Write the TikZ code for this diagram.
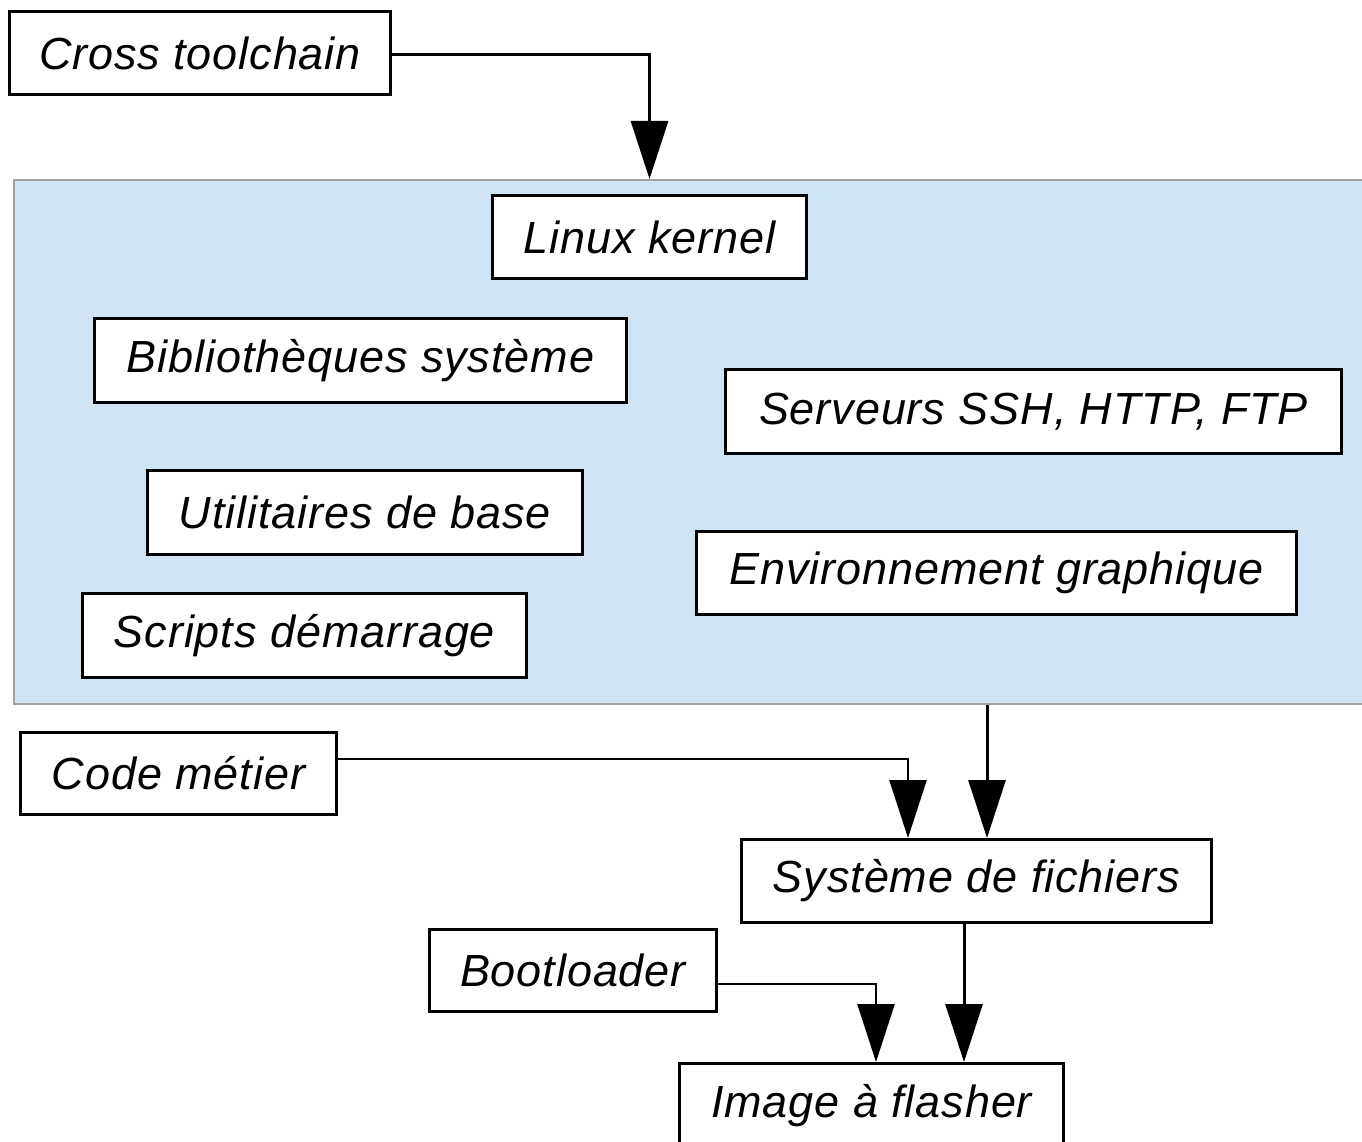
\documentclass[tikz,border=0pt]{standalone}
\usepackage{fontspec}
\setmainfont{Liberation Sans}
\newfontfamily\boxfont[LetterSpace=2.0]{Liberation Sans}
\usetikzlibrary{arrows.meta}
\definecolor{rootblue}{HTML}{CFE4F3}
\definecolor{rootedge}{HTML}{A0A0A0}
\tikzset{
  box/.style={draw, line width=3pt, fill=white, inner sep=0pt,
    font=\boxfont\itshape\fontsize{45}{50}\selectfont},
  arr/.style={line width=3pt, -{Triangle[width=37pt,length=58pt]}},
  link/.style={line width=2.5pt, -{Triangle[width=37pt,length=58pt]}}
}
\begin{document}
\begin{tikzpicture}[x=1pt,y=-1pt]
  \useasboundingbox (0,0) rectangle (1362,1142);
  \clip (0,0) rectangle (1362,1142);

  % root filesystem area
  \node[draw=rootedge, fill=rootblue, line width=2pt, anchor=north west,
        minimum width=1360pt, minimum height=524pt, inner sep=0pt] (rootfs) at (13,179) {};

  % components
  \node[box, minimum width=381pt, minimum height=83pt] (cross) at (200,53) {Cross toolchain};
  \node[box, minimum width=314pt, minimum height=83pt] (lk) at (649.5,237) {Linux kernel};
  \node[box, minimum width=532pt, minimum height=84pt] (bib) at (360.5,360.5) {Bibliothèques système};
  \node[box, minimum width=616pt, minimum height=84pt] (srv) at (1033.5,411.5) {Serveurs SSH, HTTP, FTP};
  \node[box, minimum width=435pt, minimum height=84pt] (util) at (365,512.5) {Utilitaires de base};
  \node[box, minimum width=600pt, minimum height=83pt] (env) at (996.5,573) {Environnement graphique};
  \node[box, minimum width=444pt, minimum height=84pt] (scr) at (304.5,635.5) {Scripts démarrage};
  \node[box, minimum width=316pt, minimum height=82pt] (code) at (178.5,773.5) {Code métier};
  \node[box, minimum width=470pt, minimum height=83pt] (sf) at (976.5,881) {Système de fichiers};
  \node[box, minimum width=287pt, minimum height=82pt] (boot) at (573,970.5) {Bootloader};
  \node[box, minimum width=384pt, minimum height=84pt] (img) at (871.5,1105.5) {Image à flasher};

  % entry points
  \coordinate (sfin1) at ([xshift=-68.5pt]sf.north);
  \coordinate (sfin2) at ([xshift=10.5pt]sf.north);
  \coordinate (imgin1) at ([xshift=4.5pt]img.north);
  \coordinate (imgin2) at ([xshift=92.5pt]img.north);

  % connectors
  \draw[arr] ([yshift=-2pt]cross.east) -| (lk.north |- rootfs.north);
  \draw[link] ([yshift=14.5pt]code.east) -| (sfin1);
  \draw[arr] (rootfs.south -| sfin2) -- (sfin2);
  \draw[link] ([yshift=-13.5pt]boot.east) -| (imgin1);
  \draw[arr] (sf.south -| imgin2) -- (imgin2);
\end{tikzpicture}
\end{document}
